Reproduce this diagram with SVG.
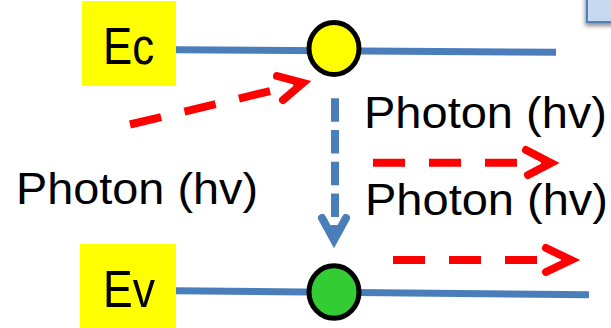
<svg xmlns="http://www.w3.org/2000/svg" width="611" height="328" viewBox="0 0 611 328">
<defs>
<filter id="shadow" x="-50%" y="-50%" width="200%" height="200%">
<feDropShadow dx="-1" dy="3" stdDeviation="2" flood-color="#000" flood-opacity="0.45"/>
</filter>
</defs>
<style>
.lbl{fill:#ffff00}
.lt{font-family:"Liberation Sans",Arial,sans-serif;fill:#000}
.big{font-size:52px}
.ph{font-size:45px}
.level{stroke:#4a7ebb;stroke-width:7;fill:none}
.red{stroke:#ff0000;stroke-width:8;fill:none;stroke-dasharray:32 24}
.redhead{stroke:#ff0000;stroke-width:8;fill:none;stroke-linecap:round;stroke-linejoin:miter}
.blue{stroke:#4a7ebb;stroke-width:8;fill:none;stroke-dasharray:23.5 8.2}
.bluehead{stroke:#4a7ebb;stroke-width:8;fill:none;stroke-linecap:round;stroke-linejoin:miter}
.dot{stroke:#000;stroke-width:5}
</style>
<rect x="587" y="-10" width="40" height="32" fill="#c6d9f1" stroke="#4f81bd" stroke-width="2" filter="url(#shadow)"/>
<g id="connectors">
<line class="level" x1="176" y1="49.7" x2="556" y2="52.3"/>
<line class="level" x1="176" y1="290.7" x2="589" y2="294.7"/>
<path class="red" d="M130,124.5 L300,84"/>
<polyline class="redhead" points="277,76 303,83 283,100"/>
<line class="blue" x1="335" y1="98.3" x2="335" y2="238"/>
<polyline class="bluehead" points="322,218 334,240 346,218"/>
<line class="red" x1="373" y1="162.7" x2="545" y2="162.7"/>
<polyline class="redhead" points="526,150 551,163 528,175"/>
<line class="red" x1="393" y1="260" x2="566" y2="260"/>
<polyline class="redhead" points="546,248 571,260 546,272"/>
</g>
<g id="ec">
<rect class="lbl" x="82" y="1" width="94" height="85"/>
<text class="lt big" x="103" y="64" textLength="51" lengthAdjust="spacingAndGlyphs">Ec</text>
</g>
<g id="ev">
<rect class="lbl" x="80" y="244" width="96" height="84"/>
<text class="lt big" x="103" y="306.7" textLength="52" lengthAdjust="spacingAndGlyphs">Ev</text>
</g>
<g id="electron">
<ellipse class="dot" cx="334" cy="48.5" rx="25" ry="26" fill="#ffff00"/>
</g>
<g id="hole">
<ellipse class="dot" cx="334" cy="292" rx="25" ry="26.3" fill="#33cc33"/>
</g>
<g id="photon-in">
<text class="lt ph" x="16" y="204.3" textLength="242" lengthAdjust="spacingAndGlyphs">Photon (hv)</text>
</g>
<g id="photon-out1">
<text class="lt ph" x="364" y="128.3" textLength="243" lengthAdjust="spacingAndGlyphs">Photon (hv)</text>
</g>
<g id="photon-out2">
<text class="lt ph" x="365" y="215" textLength="243" lengthAdjust="spacingAndGlyphs">Photon (hv)</text>
</g>
</svg>
